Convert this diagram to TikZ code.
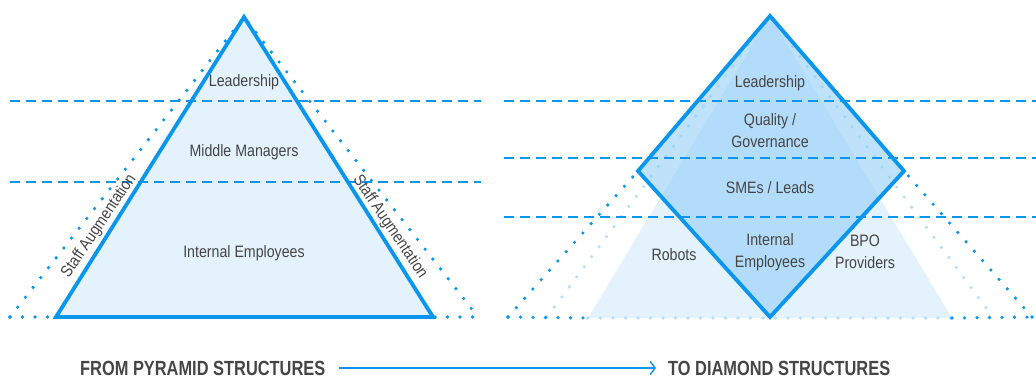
\documentclass[tikz,border=0pt]{standalone}
\usepackage{fontspec}
\setmainfont{Liberation Sans}[FakeStretch=0.86]
\newfontfamily\titlefont{Liberation Sans}[FakeStretch=0.8]
\usetikzlibrary{arrows.meta}
\definecolor{mainblue}{HTML}{0A96EE}
\definecolor{palefill}{HTML}{E3F2FD}
\definecolor{diafill}{HTML}{92CEF7}
\definecolor{paledot}{HTML}{B9DEF9}
\definecolor{txt}{HTML}{454545}
\begin{document}
\begin{tikzpicture}[x=1pt,y=-1pt,
  lbl/.style={text=txt,font=\fontsize{16.5}{19}\selectfont,align=center,inner sep=0pt},
  ttl/.style={text=txt,font=\titlefont\bfseries\fontsize{20.5}{22}\selectfont,inner sep=0pt},
  solidline/.style={draw=mainblue,line width=3.8pt,line join=miter},
  dashline/.style={draw=mainblue,line width=2.2pt,dash pattern=on 10pt off 6pt},
  dotline/.style={draw=mainblue,line width=3.6pt,line cap=round,dash pattern=on 0pt off 12.5pt},
  paledotline/.style={draw=paledot,line width=3.6pt,line cap=round,dash pattern=on 0pt off 12.5pt}]
\useasboundingbox (0,0) rectangle (1036,380);

% ---------- left pyramid ----------
\coordinate (LA) at (244,17);
\coordinate (LL) at (56,317);
\coordinate (LR) at (433,317);
\coordinate (DL) at (10,317);
\coordinate (DR) at (478,317);
\fill[palefill] (LA) -- (LL) -- (LR) -- cycle;
\draw[dotline] (DL) -- (LA) -- (DR);
\draw[dotline] (DL) -- (DR);
\coordinate (d1a) at (10,101); \coordinate (d1b) at (481,101);
\coordinate (d2a) at (10,182); \coordinate (d2b) at (481,182);
\draw[dashline] (d1a) -- (d1b);
\draw[dashline] (d2a) -- (d2b);
\draw[solidline] (LA) -- (LL) -- (LR) -- cycle;

\node[lbl] (l1) at (244,82) {Leadership};
\node[lbl] (l2) at (244,152) {Middle Managers};
\node[lbl] (l3) at (244,253) {Internal Employees};
\node[lbl,rotate=56] (sa1) at (99,226) {Staff Augmentation};
\node[lbl,rotate=-56] (sa2) at (390,227) {Staff Augmentation};

% ---------- right diamond ----------
\coordinate (RA) at (770,16);
\coordinate (TL) at (588,318);
\coordinate (TR) at (952,318);
\coordinate (PL) at (547,317);
\coordinate (PR) at (993,317);
\coordinate (QL) at (508,317);
\coordinate (QR) at (1032,317);
\coordinate (VL) at (638,171);
\coordinate (VR) at (904,171);
\coordinate (VB) at (770,317);
\fill[palefill] (RA) -- (TL) -- (TR) -- cycle;
\draw[paledotline] (PL) -- (RA) -- (PR);
\draw[paledotline] (TL) -- (TR);
\draw[dotline] (QL) -- (VL);
\draw[dotline] (QR) -- (VR);
\draw[dotline] (QL) -- (TL);
\draw[dotline] (TR) -- (QR);
\fill[diafill,opacity=0.6] (RA) -- (VR) -- (VB) -- (VL) -- cycle;
\coordinate (e1a) at (504,101); \coordinate (e1b) at (1036,101);
\coordinate (e2a) at (504,158); \coordinate (e2b) at (1036,158);
\coordinate (e3a) at (504,217); \coordinate (e3b) at (1036,217);
\draw[dashline] (e1a) -- (e1b);
\draw[dashline] (e2a) -- (e2b);
\draw[dashline] (e3a) -- (e3b);
\draw[solidline] (RA) -- (VR) -- (VB) -- (VL) -- cycle;

\node[lbl] (r1) at (770,83) {Leadership};
\node[lbl] (r2) at (770,131) {Quality /\\[3pt]Governance};
\node[lbl] (r3) at (770,188) {SMEs / Leads};
\node[lbl] (r4) at (770,252) {Internal\\[3pt]Employees};
\node[lbl] (r5) at (674,255) {Robots};
\node[lbl] (r6) at (865,252) {BPO\\[3pt]Providers};

% ---------- bottom ----------
\node[ttl,anchor=west] (from) at (80,368) {FROM PYRAMID STRUCTURES};
\node[ttl,anchor=west] (to) at (668,368) {TO DIAMOND STRUCTURES};
\draw[draw=mainblue,line width=1.4pt,-{Straight Barb[length=5pt,width=13pt,line width=1.4pt]}] ([xshift=14pt]from.east) -- ([xshift=-12pt]to.west);
\end{tikzpicture}
\end{document}
